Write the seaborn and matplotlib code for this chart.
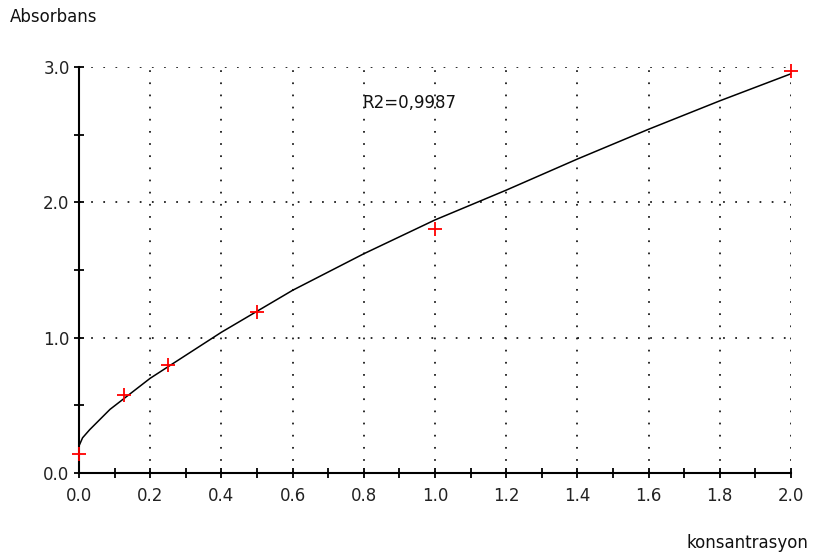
import matplotlib
matplotlib.use("Agg")
import matplotlib.pyplot as plt
import seaborn as sns
import pandas as pd
from matplotlib.ticker import MultipleLocator, FormatStrFormatter

# Measured points
conc = [0.0, 0.125, 0.25, 0.5, 1.0, 2.0]
absorb = [0.14, 0.58, 0.80, 1.19, 1.80, 2.97]

# Fitted curve
fit_x = [0.0, 0.01, 0.03, 0.087, 0.2, 0.4, 0.6, 0.8, 1.0, 1.2, 1.4, 1.6, 1.8, 2.0]
fit_y = [0.20, 0.26, 0.32, 0.47, 0.70, 1.04, 1.35, 1.62, 1.87, 2.09, 2.32, 2.54, 2.75, 2.95]

r2_text = "R2=0,9987"
x_label = "konsantrasyon"
y_label = "Absorbans"

sns.set_style("white")
plt.rcParams['font.family'] = ['DejaVu Sans']

fig = plt.figure(figsize=(8.27, 5.58), dpi=100)
ax = fig.add_axes([79/827, 1-473/558, (791-79)/827, (473-67)/558])

pts = pd.DataFrame({"x": conc, "y": absorb})
fit = pd.DataFrame({"x": fit_x, "y": fit_y})

sns.lineplot(data=fit, x="x", y="y", ax=ax, color="black", linewidth=1.1,
             sort=True, estimator=None, zorder=3, clip_on=False)
sns.scatterplot(data=pts, x="x", y="y", ax=ax, marker="+", color="red",
                s=90, linewidth=1.3, zorder=4, clip_on=False)

ax.set_xlim(0, 2.0)
ax.set_ylim(0, 3.0)

ax.xaxis.set_major_locator(MultipleLocator(0.2))
ax.xaxis.set_minor_locator(MultipleLocator(0.1))
ax.yaxis.set_major_locator(MultipleLocator(1.0))
ax.yaxis.set_minor_locator(MultipleLocator(0.5))
ax.xaxis.set_major_formatter(FormatStrFormatter('%.1f'))
ax.yaxis.set_major_formatter(FormatStrFormatter('%.1f'))

for s in ["top", "right"]:
    ax.spines[s].set_visible(False)
for s in ["left", "bottom"]:
    ax.spines[s].set_color("black")
    ax.spines[s].set_linewidth(1.5)

ax.tick_params(which="both", direction="inout", length=6.5, width=1.3,
               color="black", labelsize=12, labelcolor="#222222",
               bottom=True, left=True, top=False, right=False)
ax.tick_params(axis="x", which="major", pad=7)
ax.tick_params(axis="y", which="major", pad=3.5)

ax.grid(True, which="major", color="#111111", linestyle=(0, (1, 6.0)),
        linewidth=1.25)
ax.set_axisbelow(True)

ax.set_xlabel("")
ax.set_ylabel("")

fig.text(10/827, 1-17/558, y_label, fontsize=12, color="#111111",
         ha="left", va="center")
fig.text(808/827, 1-543/558, x_label, fontsize=12, color="#111111",
         ha="right", va="center")
ax.text(0.927, (473-103)/135.3, r2_text, fontsize=12, color="#111111",
        ha="center", va="center")

fig.savefig("out.png", dpi=100)
